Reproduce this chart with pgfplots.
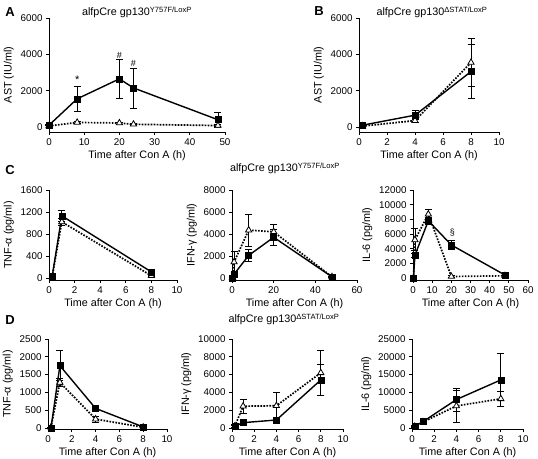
\documentclass[border=0pt]{standalone}
\usepackage{pgfplots}
\pgfplotsset{compat=1.18}
\usepackage{fontspec}
\setmainfont{Liberation Sans}
\pgfplotsset{
 panel/.style={scale only axis, axis lines=left, axis line style={-, line width=0.8bp},
  tick align=outside, major tick length=3bp, tick style={line width=0.8bp, black},
  anchor=south west, clip=false, scaled ticks=false, xmin=0,
  /pgf/number format/assume math mode=true, /pgf/number format/set thousands separator={},
  tick label style={font=\fontsize{9.8bp}{11bp}\selectfont},
  label style={font=\fontsize{10.8bp}{12bp}\selectfont},
  xlabel style={yshift=2bp},
  xlabel={Time after Con A (h)}},
 sol/.style={black, line width=1.4bp, mark=square*, mark size=3bp,
  mark options={solid, fill=black, line width=0.5bp},
  error bars/.cd, y dir=both, y explicit, error bar style={line width=0.8bp, solid},
  error mark options={rotate=90, mark size=3.5bp, line width=0.8bp, solid}},
 dot/.style={black, line width=1.7bp, dash pattern=on 1.6bp off 1.4bp, mark=triangle*, mark size=3.6bp,
  mark options={solid, fill=white, line width=0.8bp},
  error bars/.cd, y dir=both, y explicit, error bar style={line width=0.8bp, solid},
  error mark options={rotate=90, mark size=3.5bp, line width=0.8bp, solid}},
}
\begin{document}
\begin{tikzpicture}
\useasboundingbox (0,0) rectangle (538bp,459bp);
\tikzset{lab/.style={font=\fontsize{10.8bp}{12bp}\selectfont, anchor=base},
 let/.style={font=\bfseries\fontsize{13bp}{14bp}\selectfont}}
% Panel letters and titles
\node[let] at (10bp,447bp) {A};
\node[let] at (319bp,448bp) {B};
\node[let] at (10bp,289bp) {C};
\node[let] at (10bp,139bp) {D};
\node[lab] at (137bp,443bp) {alfpCre gp130\textsuperscript{Y757F/LoxP}};
\node[lab] at (432bp,443bp) {alfpCre gp130\textsuperscript{ΔSTAT/LoxP}};
\node[lab] at (285bp,287bp) {alfpCre gp130\textsuperscript{Y757F/LoxP}};
\node[lab] at (284bp,136bp) {alfpCre gp130\textsuperscript{ΔSTAT/LoxP}};

% A
\begin{axis}[panel, at={(49bp,327bp)}, width=176bp, height=114bp,
  xmax=50, ymin=-275, ymax=6000, xtick={0,10,...,50}, ytick={0,2000,4000,6000},
  ylabel={AST (IU/ml)}]
\addplot[dot] coordinates {(0,60) +- (0,20) (8,250) +- (0,60) (20,220) +- (0,60) (24,150) +- (0,40) (48,80) +- (0,40)};
\addplot[sol] coordinates {(0,100) +- (0,40) (8,1550) +- (0,700) (20,2650) +- (0,1050) (24,2150) +- (0,1100) (48,400) +- (0,400)};
\node[font=\fontsize{11bp}{12bp}\selectfont] at (axis cs:8,2590) {*};
\node[font=\fontsize{9bp}{10bp}\selectfont] at (axis cs:20,3960) {\#};
\node[font=\fontsize{9bp}{10bp}\selectfont] at (axis cs:24,3520) {\#};
\end{axis}

% B
\begin{axis}[panel, at={(359bp,327bp)}, width=140bp, height=114bp,
  xmax=10, ymin=-275, ymax=6000, xtick={0,2,...,10}, ytick={0,2000,4000,6000},
  ylabel={AST (IU/ml)}]
\addplot[dot] coordinates {(0.25,50) +- (0,30) (4,350) +- (0,100) (8,3550) +- (0,1300)};
\addplot[sol] coordinates {(0.25,100) +- (0,80) (4,650) +- (0,250) (8,3050) +- (0,1500)};
\end{axis}

% C TNF
\begin{axis}[panel, at={(49bp,179bp)}, width=128bp, height=90bp,
  xmax=10, ymin=-37, ymax=1600, xtick={0,2,...,10}, ytick={0,400,...,1600},
  ylabel={TNF-α (pg/ml)}]
\addplot[dot] coordinates {(0.25,20) +- (0,10) (1,1020) +- (0,60) (8,40) +- (0,20)};
\addplot[sol] coordinates {(0.25,30) +- (0,20) (1,1130) +- (0,100) (8,110) +- (0,40)};
\end{axis}

% C IFN
\begin{axis}[panel, at={(232bp,179bp)}, width=125bp, height=90bp,
  xmax=60, ymin=-184, ymax=8000, xtick={0,20,40,60}, ytick={0,2000,...,8000},
  ylabel={IFN-γ (pg/ml)}]
\addplot[dot] coordinates {(0.25,50) +- (0,30) (1,1450) +- (0,1000) (8,4350) +- (0,1450) (20,4200) +- (0,700) (48,100) +- (0,50)};
\addplot[sol] coordinates {(0.25,0) +- (0,20) (1,350) +- (0,200) (8,2050) +- (0,550) (20,3700) +- (0,700) (48,100) +- (0,50)};
\end{axis}

% C IL-6
\begin{axis}[panel, at={(413bp,179bp)}, width=115bp, height=90bp,
  xmax=60, ymin=-276, ymax=12000, xtick={0,10,...,60}, ytick={0,2000,...,12000},
  ylabel={IL-6 (pg/ml)}]
\addplot[dot] coordinates {(0.25,0) +- (0,20) (1,5200) +- (0,1500) (8,8700) +- (0,700) (20,200) +- (0,100) (48,300) +- (0,100)};
\addplot[sol] coordinates {(0.25,0) +- (0,20) (1,3100) +- (0,300) (8,7800) +- (0,400) (20,4500) +- (0,600) (48,400) +- (0,100)};
\node[font=\fontsize{9bp}{10bp}\selectfont] at (axis cs:20.5,6130) {§};
\end{axis}

% D TNF
\begin{axis}[panel, at={(48bp,30bp)}, width=119bp, height=90bp,
  xmax=10, ymin=-28, ymax=2500, xtick={0,2,...,10}, ytick={0,500,...,2500},
  ylabel={TNF-α (pg/ml)}]
\addplot[dot] coordinates {(0.25,20) +- (0,10) (1,1280) +- (0,110) (4,250) +- (0,80) (8,20) +- (0,10)};
\addplot[sol] coordinates {(0.25,0) +- (0,10) (1,1750) +- (0,420) (4,550) +- (0,60) (8,30) +- (0,10)};
\end{axis}

% D IFN
\begin{axis}[panel, at={(232bp,30bp)}, width=111bp, height=90bp,
  xmax=10, ymin=-112, ymax=10000, xtick={0,2,...,10}, ytick={0,2000,...,10000},
  ylabel={IFN-γ (pg/ml)}]
\addplot[dot] coordinates {(0.25,200) +- (0,150) (1,2450) +- (0,800) (4,2500) +- (0,1450) (8,6200) +- (0,2500)};
\addplot[sol] coordinates {(0.25,200) +- (0,100) (1,600) +- (0,300) (4,900) +- (0,100) (8,5400) +- (0,1750)};
\end{axis}

% D IL-6
\begin{axis}[panel, at={(412bp,30bp)}, width=111bp, height=90bp,
  xmax=10, ymin=-280, ymax=25000, xtick={0,2,...,10}, ytick={0,5000,...,25000},
  ylabel={IL-6 (pg/ml)}]
\addplot[dot] coordinates {(0.25,400) +- (0,100) (1,1700) +- (0,300) (4,6200) +- (0,4500) (8,8200) +- (0,2000)};
\addplot[sol] coordinates {(0.25,500) +- (0,100) (1,1800) +- (0,300) (4,8000) +- (0,3200) (8,13500) +- (0,7500)};
\end{axis}
\end{tikzpicture}
\end{document}
